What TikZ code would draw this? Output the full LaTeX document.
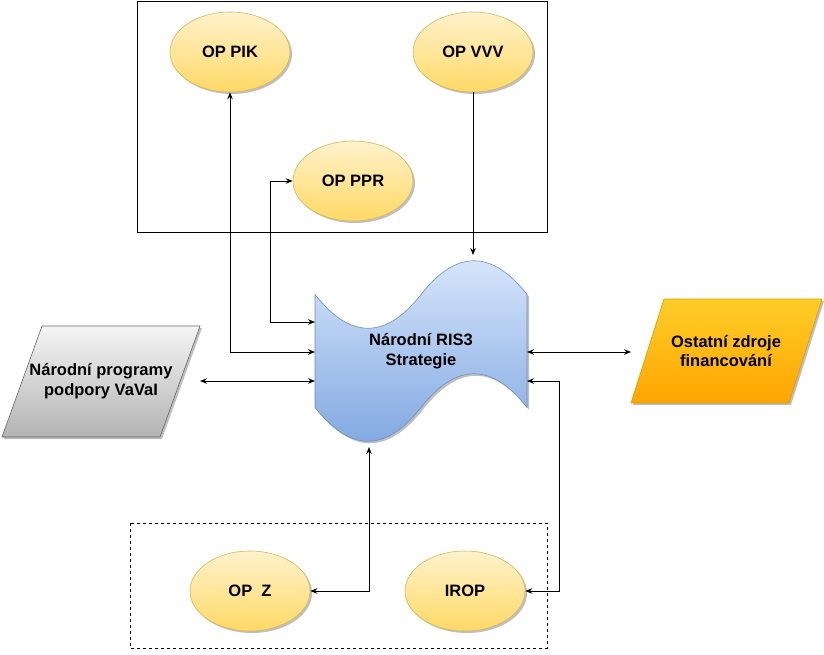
\documentclass[tikz,border=0pt]{standalone}
\usepackage{fontspec}
\setmainfont{Liberation Sans}
\usetikzlibrary{shapes.geometric,shadows,arrows.meta,backgrounds}
\definecolor{optop}{HTML}{FFF2CC}
\definecolor{opbot}{HTML}{FFD966}
\definecolor{opline}{HTML}{D6B656}
\definecolor{tptop}{HTML}{DAE8FC}
\definecolor{tpbot}{HTML}{7EA6E0}
\definecolor{tpline}{HTML}{6C8EBF}
\definecolor{grtop}{HTML}{F5F5F5}
\definecolor{grbot}{HTML}{B3B3B3}
\definecolor{grline}{HTML}{666666}
\definecolor{ortop}{HTML}{FFCD28}
\definecolor{orbot}{HTML}{FFA500}
\definecolor{orline}{HTML}{D79B00}
\begin{document}
\begin{tikzpicture}[x=1pt,y=-1pt,
  font=\fontsize{16.5}{19.5}\selectfont\bfseries,
  shd/.style={drop shadow={shadow xshift=2pt,shadow yshift=-2pt,opacity=0.25,fill=black}},
  op/.style={ellipse, minimum width=120pt, minimum height=80pt, inner sep=0pt,
    draw=opline, line width=0.6pt, top color=optop, bottom color=opbot, shd},
  txt/.style={align=center, inner sep=0pt},
  tip/.style={Stealth[length=7pt,width=5.5pt]},
  link/.style={line width=0.9pt, {Stealth[length=7pt,width=5.5pt]}-{Stealth[length=7pt,width=5.5pt]}},
  oneway/.style={line width=0.9pt, -{Stealth[length=7pt,width=5.5pt]}},
  frame/.style={line width=0.9pt},
  dframe/.style={line width=0.9pt, dash pattern=on 3pt off 3pt}
]
\useasboundingbox (0,0) rectangle (824,654);

% frames
\draw[frame] (137,1) rectangle (547,232);
\draw[dframe] (130,523) rectangle (547,648);

% ellipses
\node[op] (pik) at (230,52) {OP PIK};
\node[op] (vvv) at (473,52) {OP VVV};
\node[op] (ppr) at (353,181) {OP PPR};
\node[op] (opz) at (250,591) {OP~~Z};
\node[op] (irop) at (465,591) {IROP};

% text nodes of the large shapes
\node[txt] (ris) at (421,351) {Národní RIS3\\Strategie};
\node[txt] (nat) at (101,381) {Národní programy\\podpory VaVaI};
\node[txt] (ost) at (726,351) {Ostatní zdroje\\financování};

\begin{scope}[on background layer]
  \path[shd, draw=tpline, line width=0.6pt, top color=tptop, bottom color=tpbot]
    (315,294.5) .. controls (350.3,339.5) and (385.7,339.5) .. (421,294.5)
    .. controls (456.3,249.5) and (491.7,249.5) .. (527,294.5)
    -- (527,407.5)
    .. controls (491.7,362.5) and (456.3,362.5) .. (421,407.5)
    .. controls (385.7,452.5) and (350.3,452.5) .. (315,407.5) -- cycle;
  \path[shd, draw=grline, line width=0.6pt, top color=grtop, bottom color=grbot]
    (2,437) -- (160,437) -- (200,326) -- (42,326) -- cycle;
  \path[shd, draw=orline, line width=0.6pt, top color=ortop, bottom color=orbot]
    (631,403) -- (789,403) -- (822,299) -- (664,299) -- cycle;
\end{scope}

% attachment points on the shapes
\coordinate (tL1) at (315,322);
\coordinate (tL2) at (315,352);
\coordinate (tL3) at (315,381);
\coordinate (tR2) at (527,352);
\coordinate (tR3) at (527,381);
\coordinate (tT) at (473,255);
\coordinate (tB) at (369,447);
\coordinate (natE) at (200,381);
\coordinate (ostW) at (631,352);

% connectors
\draw[link] (pik.south) |- (tL2);
\draw[link] (ppr.west) -- ++(-22,0) |- (tL1);
\draw[oneway] (vvv.south) -- (tT);
\draw[link] (natE) -- (tL3);
\draw[link] (tR2) -- (ostW);
\draw[link] (tB) |- (opz.east);
\draw[link] (tR3) -- ++(32,0) |- (irop.east);
\end{tikzpicture}
\end{document}
